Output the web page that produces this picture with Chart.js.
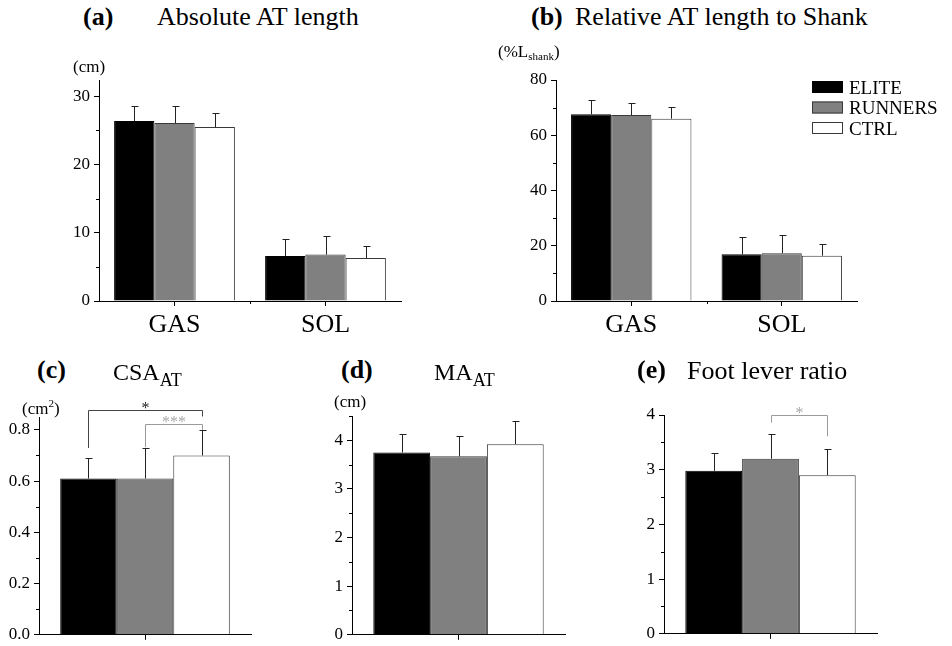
<!DOCTYPE html>
<html>
<head>
<meta charset="utf-8">
<script src="https://cdn.jsdelivr.net/npm/chart.js@4.4.0/dist/chart.umd.min.js"></script>
<style>
    html, body { margin: 0; padding: 0; background: #fff; width: 952px; height: 646px; overflow: hidden; }
    canvas { position: absolute; }
    .t { position: absolute; font-family: 'Liberation Serif', 'Times New Roman', serif; color: #000; white-space: nowrap; line-height: 1; }
</style>
</head>
<body>
<canvas id="chartA" width="420" height="285" style="left:0;top:60px"></canvas>
<canvas id="chartB" width="482" height="285" style="left:470px;top:60px"></canvas>
<canvas id="chartC" width="280" height="254" style="left:0;top:395px"></canvas>
<canvas id="chartD" width="280" height="254" style="left:310px;top:395px"></canvas>
<canvas id="chartE" width="332" height="253" style="left:620px;top:395px"></canvas>

<script>
const groupNames = ['ELITE', 'RUNNERS', 'CTRL'];

// (a) absolute AT length (cm)
const lengthCats = ['GAS', 'SOL'];
const absElite = [26.4, 6.6];
const absEliteSd = [2.2, 2.5];
const absRunners = [26.1, 6.8];
const absRunnersSd = [2.5, 2.8];
const absCtrl = [25.5, 6.3];
const absCtrlSd = [2.0, 1.7];
const absTicks = [0, 10, 20, 30];

// (b) AT length relative to shank (%)
const relElite = [67.6, 16.9];
const relEliteSd = [5.0, 6.3];
const relRunners = [67.3, 17.3];
const relRunnersSd = [4.4, 6.5];
const relCtrl = [66.0, 16.4];
const relCtrlSd = [4.3, 4.3];
const relTicks = [0, 20, 40, 60, 80];

// (c) CSA (cm2), one value per group
const csaMean = [0.61, 0.61, 0.70];
const csaSd = [0.08, 0.12, 0.10];
const csaTicks = [0, 0.2, 0.4, 0.6, 0.8];
const csaSig = [
    { from: 0, to: 2, top: 0.878, left: 0.729, right: 0.852, text: '*', faint: false },
    { from: 1, to: 2, top: 0.821, left: 0.732, right: 0.80, text: '***', faint: true }
];

// (d) moment arm (cm)
const maMean = [3.75, 3.67, 3.92];
const maSd = [0.37, 0.41, 0.47];
const maTicks = [0, 1, 2, 3, 4];

// (e) foot lever ratio
const leverMean = [2.98, 3.20, 2.90];
const leverSd = [0.33, 0.45, 0.47];
const leverTicks = [0, 1, 2, 3, 4];
const leverSig = [
    { from: 1, to: 2, top: 4.0, left: 3.86, right: 3.61, text: '*', faint: true }
];

const FONT = 'Liberation Serif';
const fills = ['#000000', '#808080', '#ffffff'];
const borders = ['#000000', '#3a3a3a', '#3a3a3a'];

Chart.defaults.font.family = FONT;
Chart.defaults.color = '#000';

// error bars, upward only, with a small cap
const errorBars = {
    id: 'errorBars',
    afterDatasetsDraw(chart) {
        const ctx = chart.ctx;
        const y = chart.scales.y;
        chart.data.datasets.forEach((ds, di) => {
            chart.getDatasetMeta(di).data.forEach((bar, i) => {
                const top = Math.round(y.getPixelForValue(ds.data[i] + ds.errors[i])) + 0.5;
                const x = Math.round(bar.x) + 0.5;
                ctx.save();
                ctx.strokeStyle = '#222';
                ctx.lineWidth = 1;
                ctx.beginPath();
                ctx.moveTo(x, bar.y);
                ctx.lineTo(x, top);
                ctx.moveTo(x - 3, top);
                ctx.lineTo(x + 4, top);
                ctx.stroke();
                ctx.restore();
            });
        });
    }
};

// short minor ticks halfway between the labelled ones
const minorTicks = {
    id: 'minorTicks',
    afterDraw(chart) {
        const ctx = chart.ctx;
        const y = chart.scales.y, x = chart.scales.x;
        const vals = y.ticks.map(t => t.value);
        const step = vals[1] - vals[0];
        ctx.save();
        ctx.strokeStyle = '#000';
        ctx.lineWidth = 1;
        ctx.beginPath();
        for (let v = vals[0] + step / 2; v <= y.max + 1e-9; v += step) {
            const py = Math.round(y.getPixelForValue(v)) + 0.5;
            ctx.moveTo(y.right - 3, py);
            ctx.lineTo(y.right, py);
        }
        const n = chart.data.labels.length;
        for (let i = 1; i < n; i++) {
            const px = Math.round((x.getPixelForValue(i - 1) + x.getPixelForValue(i)) / 2) + 0.5;
            ctx.moveTo(px, x.top);
            ctx.lineTo(px, x.top + 3);
        }
        ctx.stroke();
        ctx.restore();
    }
};

function bracketPlugin(items) {
    return {
        id: 'sigBrackets',
        afterDraw(chart) {
            const ctx = chart.ctx;
            const y = chart.scales.y;
            items.forEach(s => {
                const x1 = Math.round(chart.getDatasetMeta(s.from).data[0].x) + 0.5;
                const x2 = Math.round(chart.getDatasetMeta(s.to).data[0].x) + 0.5;
                const top = Math.round(y.getPixelForValue(s.top)) + 0.5;
                ctx.save();
                ctx.strokeStyle = s.faint ? '#9a9a9a' : '#444';
                ctx.lineWidth = 1;
                ctx.beginPath();
                ctx.moveTo(x1, y.getPixelForValue(s.left));
                ctx.lineTo(x1, top);
                ctx.lineTo(x2, top);
                ctx.lineTo(x2, y.getPixelForValue(s.right));
                ctx.stroke();
                ctx.fillStyle = s.faint ? '#a8a8a8' : '#222';
                ctx.font = '16px ' + FONT;
                ctx.textAlign = 'center';
                ctx.textBaseline = 'alphabetic';
                ctx.fillText(s.text, (x1 + x2) / 2, top + 2.5);
                ctx.restore();
            });
        }
    };
}

const boxLegend = {
    id: 'boxLegend',
    afterDraw(chart) {
        const ctx = chart.ctx;
        const left = chart.chartArea.right - 45;
        let top = chart.chartArea.top + 1;
        chart.data.datasets.forEach(ds => {
            ctx.save();
            ctx.fillStyle = ds.backgroundColor;
            ctx.fillRect(left, top, 31, 12);
            ctx.strokeStyle = ds.borderColor;
            ctx.lineWidth = 1;
            ctx.strokeRect(left + 0.5, top + 0.5, 30, 11);
            ctx.fillStyle = '#000';
            ctx.font = '19px ' + FONT;
            ctx.textBaseline = 'alphabetic';
            ctx.fillText(ds.label, left + 37, top + 12.5);
            ctx.restore();
            top += 20.5;
        });
    }
};

function makeChart(id, labels, series, errs, opts) {
    const datasets = series.map((vals, i) => ({
        label: groupNames[i],
        data: vals,
        errors: errs[i],
        backgroundColor: fills[i],
        borderColor: borders[i],
        borderWidth: 1,
        categoryPercentage: 0.8,
        barPercentage: 1.0
    }));
    const plugins = [errorBars, minorTicks].concat(opts.extra || []);
    return new Chart(document.getElementById(id), {
        type: 'bar',
        data: { labels: labels, datasets: datasets },
        plugins: plugins,
        options: {
            responsive: false,
            animation: false,
            layout: { padding: opts.padding },
            plugins: { legend: { display: false }, tooltip: { enabled: false } },
            scales: {
                x: {
                    offset: true,
                    grid: { display: true, drawOnChartArea: false, offset: false, tickLength: 5, color: '#000' },
                    border: { display: true, color: '#000', width: 1 },
                    ticks: { display: opts.showCats, padding: 4, color: '#000', font: { family: FONT, size: 26 } },
                    afterFit: s => { s.height = opts.xH; }
                },
                y: {
                    min: 0,
                    max: opts.max,
                    grid: { display: true, drawOnChartArea: false, tickLength: 5, color: '#000' },
                    border: { display: true, color: '#000', width: 1 },
                    ticks: {
                        includeBounds: false,
                        padding: 4,
                        color: '#000',
                        font: { family: FONT, size: 17 },
                        callback: v => opts.decimals ? Number(v).toFixed(opts.decimals) : v
                    },
                    afterBuildTicks: s => { s.ticks = opts.ticks.map(v => ({ value: v })); },
                    afterFit: s => { s.width = opts.yW; }
                }
            }
        }
    });
}

makeChart('chartA', lengthCats, [absElite, absRunners, absCtrl], [absEliteSd, absRunnersSd, absCtrlSd], {
    max: 32.4, ticks: absTicks, yW: 99, xH: 44, showCats: true,
    padding: { left: 0, right: 19, top: 20, bottom: 0 }
});

makeChart('chartB', lengthCats, [relElite, relRunners, relCtrl], [relEliteSd, relRunnersSd, relCtrlSd], {
    max: 80, ticks: relTicks, yW: 86, xH: 44, showCats: true, extra: [boxLegend],
    padding: { left: 0, right: 95, top: 20, bottom: 0 }
});

const one = arr => arr.map(v => [v]);

makeChart('chartC', [''], one(csaMean), one(csaSd), {
    max: 0.85, ticks: csaTicks, yW: 39, xH: 12, showCats: false, decimals: 1, extra: [bracketPlugin(csaSig)],
    padding: { left: 0, right: 29, top: 22, bottom: 0 }
});

makeChart('chartD', [''], one(maMean), one(maSd), {
    max: 4.5, ticks: maTicks, yW: 42, xH: 12, showCats: false,
    padding: { left: 0, right: 25, top: 21, bottom: 0 }
});

makeChart('chartE', [''], one(leverMean), one(leverSd), {
    max: 4, ticks: leverTicks, yW: 44, xH: 12, showCats: false, extra: [bracketPlugin(leverSig)],
    padding: { left: 0, right: 75, top: 20, bottom: 0 }
});

// titles and unit labels, placed by baseline
function place(x, baseline, size, html, bold) {
    const d = document.createElement('div');
    d.className = 't';
    d.style.left = x + 'px';
    d.style.top = (baseline - 0.8375 * size) + 'px';
    d.style.fontSize = size + 'px';
    if (bold) d.style.fontWeight = 'bold';
    d.innerHTML = html;
    document.body.appendChild(d);
}
const sub = (txt, size, dy) => `<span style="font-size:${size}px;position:relative;top:${dy}px">${txt}</span>`;

place(83, 26, 26, '(a)', true);
place(157, 26, 26, 'Absolute AT length');
place(531, 26, 26, '(b)', true);
place(575, 26, 26, 'Relative AT length to Shank');
place(73, 72, 17, '(cm)');
place(498, 57.5, 17, '(%L' + sub('shank', 11, 3) + ')');

place(37, 379, 26, '(c)', true);
place(113, 380, 24, 'CSA' + sub('AT', 18, 6));
place(22, 414, 17, '(cm' + sub('2', 11, -7) + ')');

place(341, 379, 26, '(d)', true);
place(434, 380, 24, 'MA' + sub('AT', 18, 6));
place(334, 407.5, 17, '(cm)');

place(637, 379, 26, '(e)', true);
place(687, 380, 26, 'Foot lever ratio');
</script>
</body>
</html>
